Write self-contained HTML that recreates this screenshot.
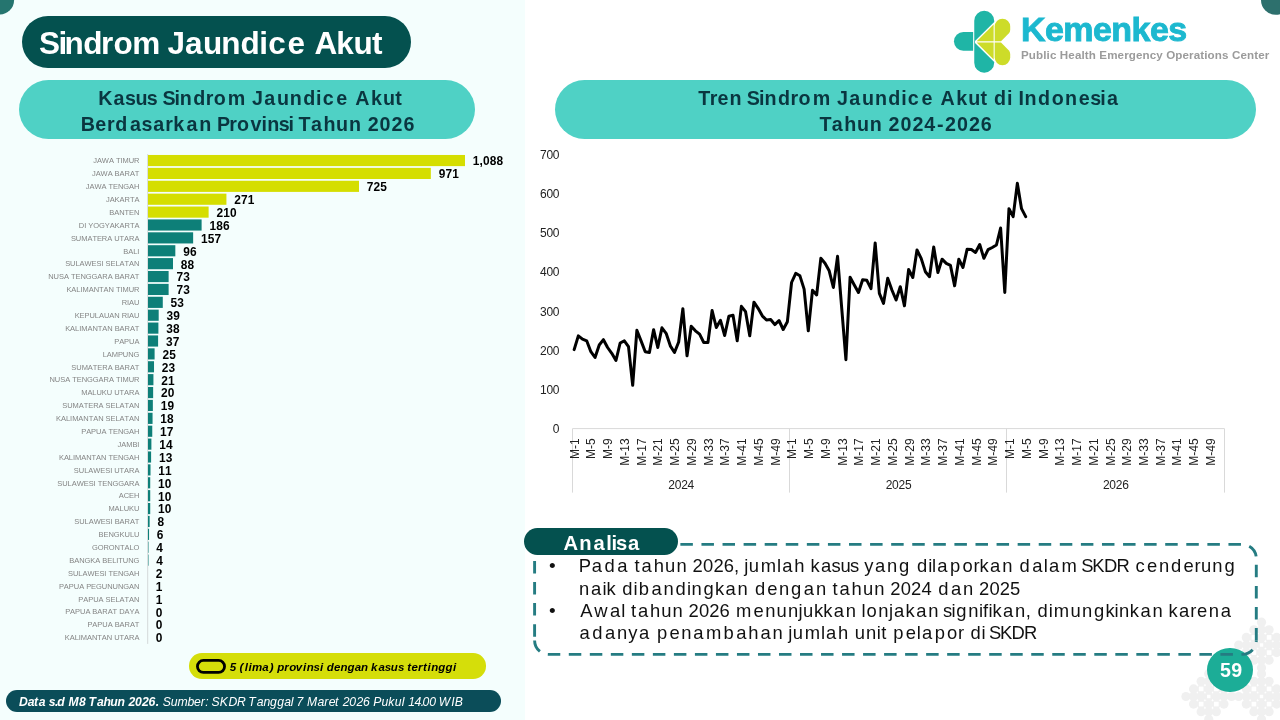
<!DOCTYPE html>
<html lang="id"><head><meta charset="utf-8"><title>Sindrom Jaundice Akut</title>
<style>
html,body{margin:0;padding:0;}
body{width:1280px;height:720px;overflow:hidden;background:#fff;font-family:"Liberation Sans",sans-serif;font-kerning:none;}
#slide{position:relative;width:1280px;height:720px;overflow:hidden;background:#fff;}
#leftbg{position:absolute;left:0;top:0;width:525.3px;height:720px;background:#f4fefd;}
.abs{position:absolute;}
.t{position:absolute;white-space:nowrap;font-kerning:none;will-change:transform;}
#title{left:21.9px;top:15.8px;width:389px;height:52.1px;border-radius:27px;background:#04514f;}
.pill{background:#4fd1c5;border-radius:30px;}
#pl{left:19px;top:80.2px;width:455.8px;height:58.7px;}
#pr{left:555px;top:80.2px;width:701px;height:58.7px;}
svg{position:absolute;left:0;top:0;will-change:transform;}
svg text{font-family:"Liberation Sans",sans-serif;font-kerning:none;}
.cat{font-size:7.5px;fill:#858585;letter-spacing:-0.05px;}
.val{font-size:11.9px;font-weight:bold;fill:#000;letter-spacing:0.15px;}
.ax{font-size:12px;fill:#222;letter-spacing:-0.25px;}
.axx{font-size:12px;fill:#222;letter-spacing:0px;}
#legend{left:189.2px;top:653.1px;width:296.9px;height:25.6px;border-radius:12.8px;background:#d5de0a;}
#foot{left:6.1px;top:689.8px;width:495px;height:22.1px;border-radius:11.1px;background:#0b4d59;}
#anpill{left:523.9px;top:528px;width:154.1px;height:26.7px;border-radius:13.4px;background:#04514f;}
.bul{font-size:19px;line-height:19px;color:#111;}
#pg{left:1207.2px;top:647.8px;width:45.6px;height:44.4px;border-radius:50%;background:#1cad97;}
</style></head><body>
<div id="slide">
<div id="leftbg"></div>
<svg width="1280" height="720" viewBox="0 0 1280 720">
<circle cx="-0.5" cy="0" r="14.6" fill="#25756f"/>
<circle cx="1275.8" cy="0" r="14.8" fill="#2d706d"/>
<g transform="translate(1208.75 696.5)" fill="#f0f0f0"><circle cx="-22.8" cy="0.0" r="4.6"/><circle cx="-15.2" cy="-7.6" r="4.6"/><circle cx="-15.2" cy="0.0" r="4.6"/><circle cx="-15.2" cy="7.6" r="4.6"/><circle cx="-7.6" cy="-15.2" r="4.6"/><circle cx="-7.6" cy="-7.6" r="4.6"/><circle cx="-7.6" cy="0.0" r="4.6"/><circle cx="-7.6" cy="7.6" r="4.6"/><circle cx="-7.6" cy="15.2" r="4.6"/><circle cx="0.0" cy="-22.8" r="4.6"/><circle cx="0.0" cy="-15.2" r="4.6"/><circle cx="0.0" cy="-7.6" r="4.6"/><circle cx="0.0" cy="0.0" r="4.6"/><circle cx="0.0" cy="7.6" r="4.6"/><circle cx="0.0" cy="15.2" r="4.6"/><circle cx="0.0" cy="22.8" r="4.6"/><circle cx="7.6" cy="-15.2" r="4.6"/><circle cx="7.6" cy="-7.6" r="4.6"/><circle cx="7.6" cy="0.0" r="4.6"/><circle cx="7.6" cy="7.6" r="4.6"/><circle cx="7.6" cy="15.2" r="4.6"/><circle cx="15.2" cy="-7.6" r="4.6"/><circle cx="15.2" cy="0.0" r="4.6"/><circle cx="15.2" cy="7.6" r="4.6"/><circle cx="22.8" cy="0.0" r="4.6"/><rect x="-9.9" y="-9.9" width="4.6" height="4.6" fill="#fff"/><rect x="5.3" y="-9.9" width="4.6" height="4.6" fill="#fff"/><rect x="-9.9" y="5.3" width="4.6" height="4.6" fill="#fff"/><rect x="5.3" y="5.3" width="4.6" height="4.6" fill="#fff"/><rect x="-1.7" y="-1.7" width="3.4" height="3.4" fill="#fff"/></g>
<g transform="translate(1261.5 696.5)" fill="#f0f0f0"><circle cx="-22.8" cy="0.0" r="4.6"/><circle cx="-15.2" cy="-7.6" r="4.6"/><circle cx="-15.2" cy="0.0" r="4.6"/><circle cx="-15.2" cy="7.6" r="4.6"/><circle cx="-7.6" cy="-15.2" r="4.6"/><circle cx="-7.6" cy="-7.6" r="4.6"/><circle cx="-7.6" cy="0.0" r="4.6"/><circle cx="-7.6" cy="7.6" r="4.6"/><circle cx="-7.6" cy="15.2" r="4.6"/><circle cx="0.0" cy="-22.8" r="4.6"/><circle cx="0.0" cy="-15.2" r="4.6"/><circle cx="0.0" cy="-7.6" r="4.6"/><circle cx="0.0" cy="0.0" r="4.6"/><circle cx="0.0" cy="7.6" r="4.6"/><circle cx="0.0" cy="15.2" r="4.6"/><circle cx="0.0" cy="22.8" r="4.6"/><circle cx="7.6" cy="-15.2" r="4.6"/><circle cx="7.6" cy="-7.6" r="4.6"/><circle cx="7.6" cy="0.0" r="4.6"/><circle cx="7.6" cy="7.6" r="4.6"/><circle cx="7.6" cy="15.2" r="4.6"/><circle cx="15.2" cy="-7.6" r="4.6"/><circle cx="15.2" cy="0.0" r="4.6"/><circle cx="15.2" cy="7.6" r="4.6"/><circle cx="22.8" cy="0.0" r="4.6"/><rect x="-9.9" y="-9.9" width="4.6" height="4.6" fill="#fff"/><rect x="5.3" y="-9.9" width="4.6" height="4.6" fill="#fff"/><rect x="-9.9" y="5.3" width="4.6" height="4.6" fill="#fff"/><rect x="5.3" y="5.3" width="4.6" height="4.6" fill="#fff"/><rect x="-1.7" y="-1.7" width="3.4" height="3.4" fill="#fff"/></g>
<g transform="translate(1261.5 645)" fill="#f0f0f0"><circle cx="-22.8" cy="0.0" r="4.6"/><circle cx="-15.2" cy="-7.6" r="4.6"/><circle cx="-15.2" cy="0.0" r="4.6"/><circle cx="-15.2" cy="7.6" r="4.6"/><circle cx="-7.6" cy="-15.2" r="4.6"/><circle cx="-7.6" cy="-7.6" r="4.6"/><circle cx="-7.6" cy="0.0" r="4.6"/><circle cx="-7.6" cy="7.6" r="4.6"/><circle cx="-7.6" cy="15.2" r="4.6"/><circle cx="0.0" cy="-22.8" r="4.6"/><circle cx="0.0" cy="-15.2" r="4.6"/><circle cx="0.0" cy="-7.6" r="4.6"/><circle cx="0.0" cy="0.0" r="4.6"/><circle cx="0.0" cy="7.6" r="4.6"/><circle cx="0.0" cy="15.2" r="4.6"/><circle cx="0.0" cy="22.8" r="4.6"/><circle cx="7.6" cy="-15.2" r="4.6"/><circle cx="7.6" cy="-7.6" r="4.6"/><circle cx="7.6" cy="0.0" r="4.6"/><circle cx="7.6" cy="7.6" r="4.6"/><circle cx="7.6" cy="15.2" r="4.6"/><circle cx="15.2" cy="-7.6" r="4.6"/><circle cx="15.2" cy="0.0" r="4.6"/><circle cx="15.2" cy="7.6" r="4.6"/><circle cx="22.8" cy="0.0" r="4.6"/><rect x="-9.9" y="-9.9" width="4.6" height="4.6" fill="#fff"/><rect x="5.3" y="-9.9" width="4.6" height="4.6" fill="#fff"/><rect x="-9.9" y="5.3" width="4.6" height="4.6" fill="#fff"/><rect x="5.3" y="5.3" width="4.6" height="4.6" fill="#fff"/><rect x="-1.7" y="-1.7" width="3.4" height="3.4" fill="#fff"/></g>

<g id="logo">
<path d="M973.1 31.9 H963.4 A9.45 9.45 0 0 0 963.4 50.8 H973.1 Z" fill="#1fb5a6"/>
<path d="M974.25 20.7 A9.97 9.97 0 0 1 994.2 20.7 V22.0 L975.0 41.0 V42.9 L994.2 62.1 V62.7 A9.97 9.97 0 0 1 974.25 62.7 Z" fill="#1fb5a6"/>
<path d="M976.7 41.3 L993.6 24.4 V41.3 Z" fill="#cddc29"/>
<path d="M976.7 42.6 H993.6 V59.5 Z" fill="#cddc29"/>
<path d="M994.7 41.3 V26.4 A7.75 7.75 0 0 1 1010.2 26.4 V29.9 Q1010.2 32.1 1008.7 33.6 L1001.0 41.3 Z" fill="#cddc29"/>
<path d="M994.7 42.6 V57.5 A7.75 7.75 0 0 0 1010.2 57.5 V54.0 Q1010.2 51.8 1008.7 50.3 L1001.0 42.6 Z" fill="#cddc29"/>
</g>
</svg>
<div class="abs" id="title"></div>
<div class="abs pill" id="pl"></div>
<div class="abs pill" id="pr"></div>
<div class="abs" id="pg"></div>
<div class="abs" id="legend"></div>
<div class="abs" id="foot"></div>
<svg width="1280" height="720" viewBox="0 0 1280 720">
<rect x="197.45" y="660.45" width="27.1" height="11.95" rx="5.97" ry="5.97" fill="none" stroke="#000" stroke-width="2.8"/>
<g id="barchart">
<line x1="147.7" y1="154.10" x2="147.7" y2="643.92" stroke="#d4d9d9" stroke-width="1"/>
<rect x="148.0" y="154.97" width="317.00" height="11.15" fill="#d5de00"/>
<text class="cat" x="139.4" y="163.29" text-anchor="end">JAWA TIMUR</text>
<text class="val" x="472.80" y="165.44">1,088</text>
<rect x="148.0" y="167.86" width="282.83" height="11.15" fill="#d5de00"/>
<text class="cat" x="139.4" y="176.19" text-anchor="end">JAWA BARAT</text>
<text class="val" x="438.63" y="178.34">971</text>
<rect x="148.0" y="180.75" width="211.00" height="11.15" fill="#d5de00"/>
<text class="cat" x="139.4" y="189.07" text-anchor="end">JAWA TENGAH</text>
<text class="val" x="366.80" y="191.22">725</text>
<rect x="148.0" y="193.64" width="78.43" height="11.15" fill="#d5de00"/>
<text class="cat" x="139.4" y="201.97" text-anchor="end">JAKARTA</text>
<text class="val" x="234.23" y="204.12">271</text>
<rect x="148.0" y="206.53" width="60.62" height="11.15" fill="#d5de00"/>
<text class="cat" x="139.4" y="214.85" text-anchor="end">BANTEN</text>
<text class="val" x="216.42" y="217.00">210</text>
<rect x="148.0" y="219.42" width="53.61" height="11.15" fill="#0d7f78"/>
<text class="cat" x="139.4" y="227.75" text-anchor="end">DI YOGYAKARTA</text>
<text class="val" x="209.41" y="229.90">186</text>
<rect x="148.0" y="232.31" width="45.14" height="11.15" fill="#0d7f78"/>
<text class="cat" x="139.4" y="240.63" text-anchor="end">SUMATERA UTARA</text>
<text class="val" x="200.94" y="242.78">157</text>
<rect x="148.0" y="245.20" width="27.33" height="11.15" fill="#0d7f78"/>
<text class="cat" x="139.4" y="253.53" text-anchor="end">BALI</text>
<text class="val" x="183.13" y="255.68">96</text>
<rect x="148.0" y="258.09" width="25.00" height="11.15" fill="#0d7f78"/>
<text class="cat" x="139.4" y="266.41" text-anchor="end">SULAWESI SELATAN</text>
<text class="val" x="180.80" y="268.56">88</text>
<rect x="148.0" y="270.98" width="20.62" height="11.15" fill="#0d7f78"/>
<text class="cat" x="139.4" y="279.31" text-anchor="end">NUSA TENGGARA BARAT</text>
<text class="val" x="176.42" y="281.45">73</text>
<rect x="148.0" y="283.87" width="20.62" height="11.15" fill="#0d7f78"/>
<text class="cat" x="139.4" y="292.19" text-anchor="end">KALIMANTAN TIMUR</text>
<text class="val" x="176.42" y="294.34">73</text>
<rect x="148.0" y="296.76" width="14.78" height="11.15" fill="#0d7f78"/>
<text class="cat" x="139.4" y="305.09" text-anchor="end">RIAU</text>
<text class="val" x="170.58" y="307.24">53</text>
<rect x="148.0" y="309.65" width="10.69" height="11.15" fill="#0d7f78"/>
<text class="cat" x="139.4" y="317.98" text-anchor="end">KEPULAUAN RIAU</text>
<text class="val" x="166.49" y="320.12">39</text>
<rect x="148.0" y="322.54" width="10.40" height="11.15" fill="#0d7f78"/>
<text class="cat" x="139.4" y="330.87" text-anchor="end">KALIMANTAN BARAT</text>
<text class="val" x="166.20" y="333.01">38</text>
<rect x="148.0" y="335.43" width="10.10" height="11.15" fill="#0d7f78"/>
<text class="cat" x="139.4" y="343.75" text-anchor="end">PAPUA</text>
<text class="val" x="165.90" y="345.90">37</text>
<rect x="148.0" y="348.32" width="6.60" height="11.15" fill="#0d7f78"/>
<text class="cat" x="139.4" y="356.64" text-anchor="end">LAMPUNG</text>
<text class="val" x="162.40" y="358.79">25</text>
<rect x="148.0" y="361.21" width="6.02" height="11.15" fill="#0d7f78"/>
<text class="cat" x="139.4" y="369.53" text-anchor="end">SUMATERA BARAT</text>
<text class="val" x="161.82" y="371.68">23</text>
<rect x="148.0" y="374.10" width="5.43" height="11.15" fill="#0d7f78"/>
<text class="cat" x="139.4" y="382.43" text-anchor="end">NUSA TENGGARA TIMUR</text>
<text class="val" x="161.23" y="384.57">21</text>
<rect x="148.0" y="386.99" width="5.14" height="11.15" fill="#0d7f78"/>
<text class="cat" x="139.4" y="395.31" text-anchor="end">MALUKU UTARA</text>
<text class="val" x="160.94" y="397.46">20</text>
<rect x="148.0" y="399.88" width="4.85" height="11.15" fill="#0d7f78"/>
<text class="cat" x="139.4" y="408.21" text-anchor="end">SUMATERA SELATAN</text>
<text class="val" x="160.65" y="410.36">19</text>
<rect x="148.0" y="412.77" width="4.56" height="11.15" fill="#0d7f78"/>
<text class="cat" x="139.4" y="421.10" text-anchor="end">KALIMANTAN SELATAN</text>
<text class="val" x="160.36" y="423.25">18</text>
<rect x="148.0" y="425.66" width="4.26" height="11.15" fill="#0d7f78"/>
<text class="cat" x="139.4" y="433.99" text-anchor="end">PAPUA TENGAH</text>
<text class="val" x="160.06" y="436.13">17</text>
<rect x="148.0" y="438.55" width="3.39" height="11.15" fill="#0d7f78"/>
<text class="cat" x="139.4" y="446.88" text-anchor="end">JAMBI</text>
<text class="val" x="159.19" y="449.02">14</text>
<rect x="148.0" y="451.44" width="3.10" height="11.15" fill="#0d7f78"/>
<text class="cat" x="139.4" y="459.76" text-anchor="end">KALIMANTAN TENGAH</text>
<text class="val" x="158.90" y="461.91">13</text>
<rect x="148.0" y="464.33" width="2.51" height="11.15" fill="#0d7f78"/>
<text class="cat" x="139.4" y="472.65" text-anchor="end">SULAWESI UTARA</text>
<text class="val" x="158.31" y="474.80">11</text>
<rect x="148.0" y="477.22" width="2.22" height="11.15" fill="#0d7f78"/>
<text class="cat" x="139.4" y="485.54" text-anchor="end">SULAWESI TENGGARA</text>
<text class="val" x="158.02" y="487.69">10</text>
<rect x="148.0" y="490.11" width="2.22" height="11.15" fill="#0d7f78"/>
<text class="cat" x="139.4" y="498.44" text-anchor="end">ACEH</text>
<text class="val" x="158.02" y="500.59">10</text>
<rect x="148.0" y="503.00" width="2.22" height="11.15" fill="#0d7f78"/>
<text class="cat" x="139.4" y="511.33" text-anchor="end">MALUKU</text>
<text class="val" x="158.02" y="513.48">10</text>
<rect x="148.0" y="515.89" width="1.64" height="11.15" fill="#0d7f78"/>
<text class="cat" x="139.4" y="524.22" text-anchor="end">SULAWESI BARAT</text>
<text class="val" x="157.44" y="526.37">8</text>
<rect x="148.0" y="528.78" width="1.05" height="11.15" fill="#0d7f78"/>
<text class="cat" x="139.4" y="537.11" text-anchor="end">BENGKULU</text>
<text class="val" x="156.85" y="539.25">6</text>
<rect x="148.0" y="541.67" width="0.47" height="11.15" fill="#0d7f78"/>
<text class="cat" x="139.4" y="550.00" text-anchor="end">GORONTALO</text>
<text class="val" x="156.27" y="552.14">4</text>
<rect x="148.0" y="554.56" width="0.47" height="11.15" fill="#0d7f78"/>
<text class="cat" x="139.4" y="562.88" text-anchor="end">BANGKA BELITUNG</text>
<text class="val" x="156.27" y="565.03">4</text>
<text class="cat" x="139.4" y="575.77" text-anchor="end">SULAWESI TENGAH</text>
<text class="val" x="155.80" y="577.92">2</text>
<text class="cat" x="139.4" y="588.66" text-anchor="end">PAPUA PEGUNUNGAN</text>
<text class="val" x="155.80" y="590.81">1</text>
<text class="cat" x="139.4" y="601.56" text-anchor="end">PAPUA SELATAN</text>
<text class="val" x="155.80" y="603.71">1</text>
<text class="cat" x="139.4" y="614.45" text-anchor="end">PAPUA BARAT DAYA</text>
<text class="val" x="155.80" y="616.60">0</text>
<text class="cat" x="139.4" y="627.34" text-anchor="end">PAPUA BARAT</text>
<text class="val" x="155.80" y="629.49">0</text>
<text class="cat" x="139.4" y="640.23" text-anchor="end">KALIMANTAN UTARA</text>
<text class="val" x="155.80" y="642.38">0</text>
</g>
<g id="linechart">
<path d="M572.5 428.6 H1224.5" stroke="#d9d9d9" stroke-width="1" fill="none"/>
<path d="M572.5 428.6 V492.6" stroke="#d9d9d9" stroke-width="1" fill="none"/>
<path d="M789.5 428.6 V492.6" stroke="#d9d9d9" stroke-width="1" fill="none"/>
<path d="M1006.5 428.6 V492.6" stroke="#d9d9d9" stroke-width="1" fill="none"/>
<path d="M1224.5 428.6 V492.6" stroke="#d9d9d9" stroke-width="1" fill="none"/>
<text class="ax" x="559.3" y="432.9" text-anchor="end">0</text>
<text class="ax" x="559.3" y="393.8" text-anchor="end">100</text>
<text class="ax" x="559.3" y="354.6" text-anchor="end">200</text>
<text class="ax" x="559.3" y="315.5" text-anchor="end">300</text>
<text class="ax" x="559.3" y="276.3" text-anchor="end">400</text>
<text class="ax" x="559.3" y="237.2" text-anchor="end">500</text>
<text class="ax" x="559.3" y="198.0" text-anchor="end">600</text>
<text class="ax" x="559.3" y="158.9" text-anchor="end">700</text>
<text class="axx" transform="translate(578.70 438.4) rotate(-90)" text-anchor="end">M-1</text>
<text class="axx" transform="translate(595.44 438.4) rotate(-90)" text-anchor="end">M-5</text>
<text class="axx" transform="translate(612.19 438.4) rotate(-90)" text-anchor="end">M-9</text>
<text class="axx" transform="translate(628.93 438.4) rotate(-90)" text-anchor="end">M-13</text>
<text class="axx" transform="translate(645.68 438.4) rotate(-90)" text-anchor="end">M-17</text>
<text class="axx" transform="translate(662.42 438.4) rotate(-90)" text-anchor="end">M-21</text>
<text class="axx" transform="translate(679.16 438.4) rotate(-90)" text-anchor="end">M-25</text>
<text class="axx" transform="translate(695.91 438.4) rotate(-90)" text-anchor="end">M-29</text>
<text class="axx" transform="translate(712.65 438.4) rotate(-90)" text-anchor="end">M-33</text>
<text class="axx" transform="translate(729.40 438.4) rotate(-90)" text-anchor="end">M-37</text>
<text class="axx" transform="translate(746.14 438.4) rotate(-90)" text-anchor="end">M-41</text>
<text class="axx" transform="translate(762.88 438.4) rotate(-90)" text-anchor="end">M-45</text>
<text class="axx" transform="translate(779.63 438.4) rotate(-90)" text-anchor="end">M-49</text>
<text class="ax" x="681.2" y="489" text-anchor="middle">2024</text>
<text class="axx" transform="translate(796.37 438.4) rotate(-90)" text-anchor="end">M-1</text>
<text class="axx" transform="translate(813.12 438.4) rotate(-90)" text-anchor="end">M-5</text>
<text class="axx" transform="translate(829.86 438.4) rotate(-90)" text-anchor="end">M-9</text>
<text class="axx" transform="translate(846.60 438.4) rotate(-90)" text-anchor="end">M-13</text>
<text class="axx" transform="translate(863.35 438.4) rotate(-90)" text-anchor="end">M-17</text>
<text class="axx" transform="translate(880.09 438.4) rotate(-90)" text-anchor="end">M-21</text>
<text class="axx" transform="translate(896.84 438.4) rotate(-90)" text-anchor="end">M-25</text>
<text class="axx" transform="translate(913.58 438.4) rotate(-90)" text-anchor="end">M-29</text>
<text class="axx" transform="translate(930.32 438.4) rotate(-90)" text-anchor="end">M-33</text>
<text class="axx" transform="translate(947.07 438.4) rotate(-90)" text-anchor="end">M-37</text>
<text class="axx" transform="translate(963.81 438.4) rotate(-90)" text-anchor="end">M-41</text>
<text class="axx" transform="translate(980.56 438.4) rotate(-90)" text-anchor="end">M-45</text>
<text class="axx" transform="translate(997.30 438.4) rotate(-90)" text-anchor="end">M-49</text>
<text class="ax" x="898.5" y="489" text-anchor="middle">2025</text>
<text class="axx" transform="translate(1014.04 438.4) rotate(-90)" text-anchor="end">M-1</text>
<text class="axx" transform="translate(1030.79 438.4) rotate(-90)" text-anchor="end">M-5</text>
<text class="axx" transform="translate(1047.53 438.4) rotate(-90)" text-anchor="end">M-9</text>
<text class="axx" transform="translate(1064.28 438.4) rotate(-90)" text-anchor="end">M-13</text>
<text class="axx" transform="translate(1081.02 438.4) rotate(-90)" text-anchor="end">M-17</text>
<text class="axx" transform="translate(1097.76 438.4) rotate(-90)" text-anchor="end">M-21</text>
<text class="axx" transform="translate(1114.51 438.4) rotate(-90)" text-anchor="end">M-25</text>
<text class="axx" transform="translate(1131.25 438.4) rotate(-90)" text-anchor="end">M-29</text>
<text class="axx" transform="translate(1148.00 438.4) rotate(-90)" text-anchor="end">M-33</text>
<text class="axx" transform="translate(1164.74 438.4) rotate(-90)" text-anchor="end">M-37</text>
<text class="axx" transform="translate(1181.48 438.4) rotate(-90)" text-anchor="end">M-41</text>
<text class="axx" transform="translate(1198.23 438.4) rotate(-90)" text-anchor="end">M-45</text>
<text class="axx" transform="translate(1214.97 438.4) rotate(-90)" text-anchor="end">M-49</text>
<text class="ax" x="1115.8" y="489" text-anchor="middle">2026</text>
<path d="M574.15 349.67 L578.33 335.83 L582.51 339.17 L586.69 340.83 L590.87 351.67 L595.05 357.50 L599.24 345.00 L603.42 339.67 L607.60 347.50 L611.78 353.33 L615.96 360.50 L620.14 343.00 L624.32 340.83 L628.50 346.67 L632.68 385.33 L636.87 330.33 L641.05 340.83 L645.23 351.67 L649.41 352.50 L653.59 329.67 L657.77 347.50 L661.95 327.83 L666.13 333.33 L670.31 345.83 L674.49 352.50 L678.67 342.00 L682.86 308.67 L687.04 355.83 L691.22 326.33 L695.40 330.83 L699.58 334.17 L703.76 342.50 L707.94 342.50 L712.12 310.50 L716.30 327.50 L720.49 320.33 L724.67 335.50 L728.85 316.33 L733.03 315.33 L737.21 340.83 L741.39 306.33 L745.57 311.67 L749.75 335.83 L753.93 302.17 L758.11 308.33 L762.29 315.83 L766.48 320.00 L770.66 319.50 L774.84 324.67 L779.02 320.50 L783.20 329.50 L787.38 321.67 L791.56 282.50 L795.74 273.33 L799.92 275.83 L804.11 289.17 L808.29 330.83 L812.47 290.33 L816.65 295.00 L820.83 258.33 L825.01 263.33 L829.19 270.83 L833.37 287.50 L837.55 256.33 L841.73 308.33 L845.91 359.67 L850.10 277.17 L854.28 285.00 L858.46 292.50 L862.64 279.67 L866.82 280.33 L871.00 288.67 L875.18 242.90 L879.36 293.33 L883.54 303.33 L887.72 278.33 L891.91 290.00 L896.09 300.00 L900.27 286.67 L904.45 305.83 L908.63 269.50 L912.81 277.50 L916.99 250.00 L921.17 258.33 L925.35 271.67 L929.53 276.67 L933.72 247.00 L937.90 272.50 L942.08 259.17 L946.26 263.33 L950.44 265.33 L954.62 285.83 L958.80 259.17 L962.98 267.50 L967.16 249.17 L971.35 249.50 L975.53 252.50 L979.71 244.50 L983.89 258.33 L988.07 249.67 L992.25 247.50 L996.43 245.00 L1000.61 228.00 L1004.79 292.50 L1008.97 208.67 L1013.15 216.67 L1017.34 183.33 L1021.52 208.67 L1025.70 216.67" stroke="#000" stroke-width="3.0" fill="none" stroke-linejoin="round" stroke-linecap="round"/>
</g>
<path d="M534.6 640.4 A14 14 0 0 0 548.6 654.4 H1242.3 A14 14 0 0 0 1256.3 640.4" fill="none" stroke="#257c82" stroke-width="2.9" stroke-dasharray="12.5 8.52"/>
<path d="M1256.3 640.6 V558.4 A14 14 0 0 0 1242.3 544.4 H548.6 A14 14 0 0 0 534.6 558.4 V637" fill="none" stroke="#257c82" stroke-width="2.9" stroke-dasharray="12.5 8.58"/>
</svg>
<div class="abs" id="anpill"></div>
<div class="t" style="left:1020.93px;top:12.40px;font-size:34px;line-height:34px;letter-spacing:-0.562px;color:#1cb8cf;font-weight:bold;-webkit-text-stroke:0.9px #1cb8cf;">Kemenkes</div>
<div class="t" style="left:1020.82px;top:48.80px;font-size:11.6px;line-height:11.6px;letter-spacing:0.117px;color:#9b9b9b;font-weight:bold;">Public Health Emergency Operations Center</div>
<div class="t" style="left:1219.90px;top:661.30px;font-size:19.6px;line-height:19.6px;letter-spacing:0.229px;color:#fff;font-weight:bold;">59</div>
<svg width="1280" height="720" viewBox="0 0 1280 720">
<g id="labels">
<text x="39.1 58.4 64.6 83.3 101.1 113.4 132.3 159.6 167.6 184.9 203.1 221.3 240.4 259.3 268.2 287.6 305.4 314.4 336.3 353.6 372.1" y="54.06" style="font-size:31.5px;fill:#fff;font-weight:bold;">Sindrom Jaundice Akut</text>
<text x="98.2 113.4 125.1 135.6 146.7 157.3 162.4 174.5 179.8 193.2 205.8 213.8 227.8 246.0 252.1 264.2 277.1 289.8 303.2 316.1 322.7 336.3 348.5 355.2 370.9 382.9 395.2" y="104.70" style="font-size:19.7px;fill:#0a3640;font-weight:bold;">Kasus Sindrom Jaundice Akut</text>
<text x="80.7 95.3 107.1 115.3 129.9 141.6 153.3 165.3 173.3 186.4 199.3 211.4 216.9 229.2 237.1 250.4 261.6 267.3 278.7 288.6 293.5 298.5 310.9 323.4 336.1 348.9 361.5 367.7 379.6 391.5 403.4" y="130.70" style="font-size:19.7px;fill:#0a3640;font-weight:bold;">Berdasarkan Provinsi Tahun 2026</text>
<text x="698.2 709.8 717.5 729.5 741.4 746.8 758.9 764.5 777.9 790.5 798.6 812.7 830.9 837.1 849.2 862.1 874.9 888.3 901.2 907.8 921.5 933.7 940.5 956.2 968.2 980.6 987.8 994.0 1006.9 1012.7 1018.4 1024.5 1037.9 1051.8 1065.0 1078.8 1090.3 1100.3 1107.1" y="104.70" style="font-size:19.7px;fill:#0a3640;font-weight:bold;">Tren Sindrom Jaundice Akut di Indonesia</text>
<text x="819.5 831.8 844.3 857.1 869.8 882.5 888.6 900.5 912.4 924.3 936.9 945.1 957.0 968.9 980.8" y="130.70" style="font-size:19.7px;fill:#0a3640;font-weight:bold;">Tahun 2024-2026</text>
<text x="563.5 579.2 593.5 606.2 611.4 616.0 628.0" y="549.80" style="font-size:20.2px;fill:#fff;font-weight:bold;">Analisa</text>
<text x="578.7 591.7 604.5 617.3 628.5 634.6 641.6 653.7 665.1 676.6 687.2 692.6 703.0 713.4 723.8 734.1 739.2 744.3 748.8 760.7 777.0 782.2 794.3 804.9 810.4 820.9 831.6 840.4 850.0 859.2 864.2 874.9 887.0 899.1 910.6 917.0 928.3 932.1 937.3 950.0 962.6 973.6 979.5 990.1 1002.2 1013.4 1019.5 1032.3 1043.7 1048.9 1061.5 1076.5 1081.3 1092.2 1103.9 1116.5 1130.1 1135.5 1147.1 1158.9 1171.0 1183.5 1194.5 1200.9 1212.3 1224.4" y="572.10" style="font-size:18.4px;fill:#111;">Pada tahun 2026, jumlah kasus yang dilaporkan dalam SKDR cenderung</text>
<text x="579.0 591.1 602.4 606.4 616.4 622.2 633.5 638.7 651.5 663.5 675.6 687.0 691.5 703.5 715.0 725.5 737.6 748.8 754.9 767.3 779.1 791.1 803.8 815.9 826.7 832.5 839.5 851.5 862.9 874.3 884.9 890.3 900.7 911.1 921.4 932.3 938.2 950.9 963.0 973.6 979.1 989.4 999.8 1010.1" y="594.50" style="font-size:18.4px;fill:#111;">naik dibandingkan dengan tahun 2024 dan 2025</text>
<text x="580.2 594.3 610.0 621.3 625.6 630.9 637.9 649.9 661.3 672.6 683.2 688.6 699.0 709.3 719.6 730.4 736.1 753.5 765.2 776.6 787.9 798.5 803.0 813.9 823.2 833.8 845.8 856.3 861.6 866.5 878.3 888.9 894.1 905.6 916.2 928.2 938.2 943.1 951.4 956.3 968.2 978.9 983.1 988.4 992.4 1002.9 1015.0 1025.8 1031.6 1037.4 1048.7 1053.7 1070.6 1082.0 1093.9 1105.4 1114.5 1119.0 1129.8 1140.4 1152.4 1163.0 1168.4 1179.0 1190.2 1197.0 1208.7 1220.8" y="616.80" style="font-size:18.4px;fill:#111;">Awal tahun 2026 menunjukkan lonjakan signifikan, dimungkinkan karena</text>
<text x="579.5 592.2 605.0 617.1 628.3 639.1 650.6 657.0 669.5 681.2 693.3 705.9 723.5 736.3 748.3 760.4 772.5 782.9 788.3 792.8 804.7 820.9 826.1 838.1 849.0 854.7 866.0 876.7 881.2 887.3 893.3 905.8 916.8 921.9 934.7 947.1 958.1 964.8 970.4 981.4 984.7 989.1 1000.0 1011.6 1024.1" y="639.10" style="font-size:18.4px;fill:#111;">adanya penambahan jumlah unit pelapor di SKDR</text>
<text x="229.7 236.2 239.5 244.7 248.4 252.0 262.2 269.8 273.8 277.2 284.2 289.3 295.8 303.0 306.7 313.6 319.9 323.3 326.7 334.0 340.4 347.5 354.7 361.1 368.0 371.1 378.4 384.8 390.8 398.0 404.2 407.2 411.6 417.9 422.9 427.5 431.2 438.2 445.6 452.9" y="670.90" style="font-size:11.5px;fill:#000;font-weight:bold;font-style:italic;">5 (lima) provinsi dengan kasus tertinggi</text>
<text x="19.1 27.8 34.0 38.7 45.4 48.7 55.0 57.3 64.9 68.4 79.0 85.4 88.5 97.1 103.6 110.3 117.6 125.1 128.4 134.9 142.0 148.4 155.7" y="706.40" style="font-size:12.2px;fill:#fff;font-weight:bold;font-style:italic;">Data s.d M8 Tahun 2026.</text>
<text x="162.8 170.8 177.6 187.6 194.1 200.7 205.2 208.4 211.6 219.8 228.5 237.1 245.4 248.3 256.7 263.4 270.1 277.2 284.2 290.8 293.3 296.4 303.5 307.1 317.5 324.2 328.7 335.0 338.9 342.8 349.3 356.6 363.0 369.9 373.3 381.4 388.2 394.8 401.7 404.6 408.2 414.4 420.7 422.6 429.2 435.7 438.7 451.2 454.8" y="706.40" style="font-size:12.2px;fill:#fff;font-style:italic;">Sumber: SKDR Tanggal 7 Maret 2026 Pukul 14.00 WIB</text>
</g>
</svg>
<div class="t bul" style="left:549.2px;top:556.2px">&bull;</div>
<div class="t bul" style="left:549.2px;top:601.2px">&bull;</div>
</div>
</body></html>
